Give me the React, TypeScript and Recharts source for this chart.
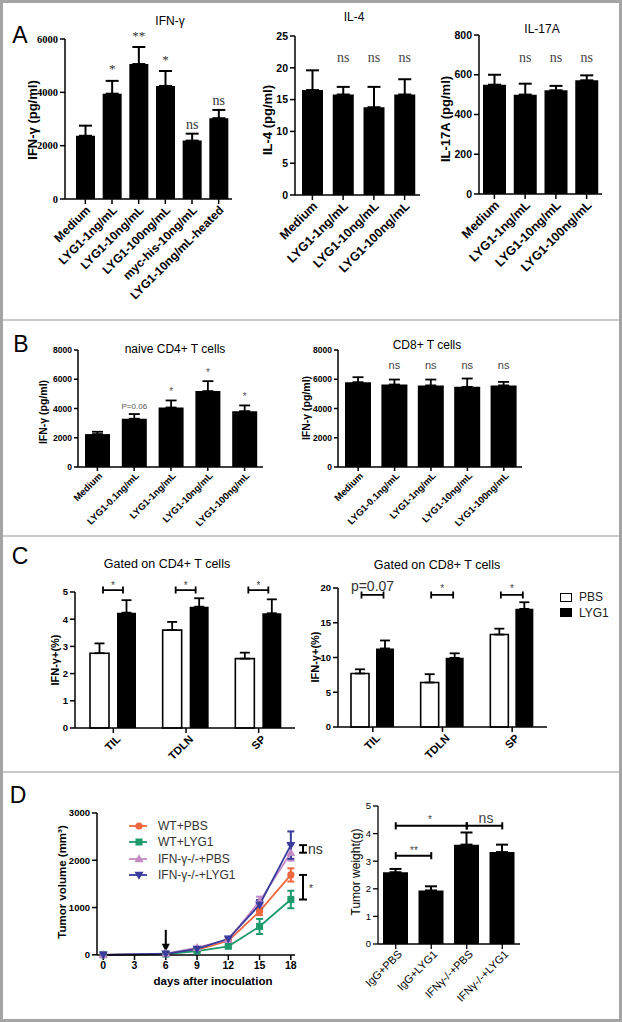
import React from "react";
import {
  BarChart,
  Bar,
  XAxis,
  YAxis,
  ErrorBar,
  LabelList,
  LineChart,
  Line,
  ReferenceLine,
  ReferenceDot,
} from "recharts";

const SANS = "'Liberation Sans', Arial, Helvetica, sans-serif";
const SERIF = "'Liberation Serif', 'Times New Roman', serif";

// ---------- A: cytokines, LYG1 dose series
const aDoses = ["Medium", "LYG1-1ng/mL", "LYG1-10ng/mL", "LYG1-100ng/mL", "myc-his-10ng/mL", "LYG1-10ng/mL-heated"];
const ifngMean = [2370, 3950, 5060, 4240, 2190, 3030];
const ifngErr = [380, 480, 640, 560, 260, 310];
const ifngSig = ["", "*", "**", "*", "ns", "ns"];

const cytoDoses = ["Medium", "LYG1-1ng/mL", "LYG1-10ng/mL", "LYG1-100ng/mL"];
const il4Mean = [16.5, 15.8, 13.8, 15.8];
const il4Err = [3.1, 1.2, 3.2, 2.4];
const il17Mean = [550, 500, 522, 572];
const il17Err = [50, 55, 22, 25];
const cytoSig = ["", "ns", "ns", "ns"];

// ---------- B: sorted T cells
const bDoses = ["Medium", "LYG1-0.1ng/mL", "LYG1-1ng/mL", "LYG1-10ng/mL", "LYG1-100ng/mL"];
const naiveMean = [2250, 3300, 4070, 5190, 3820];
const naiveErr = [160, 320, 480, 680, 390];
const naiveSig = ["", "P=0.06", "*", "*", "*"];
const cd8Mean = [5800, 5640, 5580, 5480, 5580];
const cd8Err = [340, 340, 400, 570, 240];
const cd8Sig = ["", "ns", "ns", "ns", "ns"];

// ---------- C: IFN-g+ cells in vivo
const tissues = ["TIL", "TDLN", "SP"];
const cd4Pbs = [2.75, 3.6, 2.55];
const cd4PbsErr = [0.36, 0.3, 0.22];
const cd4Lyg1 = [4.24, 4.46, 4.22];
const cd4Lyg1Err = [0.46, 0.31, 0.51];
const cd4Sig = ["*", "*", "*"];
const cd8Pbs = [7.7, 6.4, 13.3];
const cd8PbsErr = [0.6, 1.2, 0.85];
const cd8Lyg1 = [11.3, 9.95, 17.0];
const cd8Lyg1Err = [1.15, 0.65, 0.95];
const cd8GateSig = ["p=0.07", "*", "*"];

// ---------- D: tumour growth and weight
const days = [0, 6, 9, 12, 15, 18];
const wtPbs = [0, 20, 105, 296, 920, 1690];
const wtPbsErr = [4, 8, 20, 40, 80, 140];
const wtLyg1 = [0, 15, 80, 180, 600, 1170];
const wtLyg1Err = [4, 8, 15, 30, 160, 185];
const koPbs = [0, 25, 150, 320, 1130, 2160];
const koPbsErr = [4, 8, 20, 40, 100, 170];
const koLyg1 = [0, 22, 125, 340, 1060, 2320];
const koLyg1Err = [4, 8, 20, 40, 100, 290];

const weightGroups = ["IgG+PBS", "IgG+LYG1", "IFNγ-/-+PBS", "IFNγ-/-+LYG1"];
const weightMean = [2.6, 1.94, 3.6, 3.33];
const weightErr = [0.12, 0.15, 0.44, 0.27];

const COL = { wtPbs: "#f0673f", wtLyg1: "#1f9a6b", koPbs: "#c38ac6", koLyg1: "#393c9c" };

// tables
const rows = (cats: string[], mean: number[], err: number[], sig: string[]) =>
  cats.map((name, i) => ({ name, v: mean[i], e: [0, err[i]], sig: sig[i] }));

const ifngRows = rows(aDoses, ifngMean, ifngErr, ifngSig);
const il4Rows = rows(cytoDoses, il4Mean, il4Err, cytoSig);
const il17Rows = rows(cytoDoses, il17Mean, il17Err, cytoSig);
const naiveRows = rows(bDoses, naiveMean, naiveErr, naiveSig);
const cd8Rows = rows(bDoses, cd8Mean, cd8Err, cd8Sig);
const weightRows = rows(weightGroups, weightMean, weightErr, weightGroups.map(() => ""));

const pairRows = (pbs: number[], pbsE: number[], lyg: number[], lygE: number[], sig: string[]) =>
  tissues.map((name, i) => ({ name, pbs: pbs[i], pbsE: [0, pbsE[i]], lyg: lyg[i], lygE: [0, lygE[i]], sig: sig[i] }));
const cd4Rows = pairRows(cd4Pbs, cd4PbsErr, cd4Lyg1, cd4Lyg1Err, cd4Sig);
const cd8GateRows = pairRows(cd8Pbs, cd8PbsErr, cd8Lyg1, cd8Lyg1Err, cd8GateSig);

const growthRows = days.map((day, i) => ({
  day,
  wtPbs: wtPbs[i], wtPbsE: wtPbsErr[i],
  wtLyg1: wtLyg1[i], wtLyg1E: wtLyg1Err[i],
  koPbs: koPbs[i], koPbsE: koPbsErr[i],
  koLyg1: koLyg1[i], koLyg1E: koLyg1Err[i],
}));

// layout helpers: plot box (pl,pt,pr,pb) and chart box (cl, cr, cb) in page pixels
const frame = (pl: number, pt: number, pr: number, pb: number, cl: number, cr: number, cb: number) => {
  const m = 22;
  return {
    left: cl, top: pt - m, width: cr - cl, height: cb - pt + m,
    margin: { top: m, right: cr - pr, left: 0, bottom: 0 },
    yW: pl - cl, xH: cb - pb,
  };
};
type Box = ReturnType<typeof frame>;
const At = ({ b, children }: { b: Box; children: React.ReactNode }) => (
  <div style={{ position: "absolute", left: b.left, top: b.top }}>{children}</div>
);

const AX = { stroke: "#000", strokeWidth: 1.5 };
const whole = (d: any) => d;

const T = ({ x, y, s = 12, w = 400, f = SANS, c = "#000", rot = 0, a = "middle", children }: any) => {
  const tx = a === "middle" ? "-50%" : a === "start" ? "0%" : "-100%";
  return (
    <div style={{
      position: "absolute", left: x, top: y, transform: `translate(${tx},-50%) rotate(${rot}deg)`,
      fontSize: s, fontWeight: w, fontFamily: f, color: c, whiteSpace: "nowrap", lineHeight: 1,
    }}>{children}</div>
  );
};

const rotTick = (fs: number, fw: number, dx: number, dy: number) => (p: any) => {
  const x = p.x + dx;
  const y = p.y + dy;
  return (
    <text x={x} y={y} transform={`rotate(-45 ${x} ${y})`} textAnchor="end" dominantBaseline="central"
      fontSize={fs} fontWeight={fw} fontFamily={SANS} fill="#000">{p.payload.value}</text>
  );
};

const vbOf = (p: any) => (p.viewBox && p.viewBox.width != null ? p.viewBox : p);

// significance text above a bar, either gap above error top or at a fixed level
const sigLabel = (o: { gapStar?: number; gapText?: number; level?: number; starSize: number; textSize: number; font: string; color: string }) =>
  (p: any) => {
    const row = p.value;
    if (!row || !row.sig) return null;
    const vb = vbOf(p);
    const per = vb.height / row.v;
    const base = vb.y + vb.height;
    const star = row.sig.startsWith("*");
    const fs = star ? o.starSize : o.textSize;
    const c = o.level != null
      ? base - o.level * per
      : base - (row.v + row.e[1]) * per - (star ? o.gapStar ?? 12 : o.gapText ?? 8);
    return (
      <text x={vb.x + vb.width / 2} y={c + (star ? 0.58 : 0.36) * fs} textAnchor="middle"
        fontSize={fs} fontFamily={o.font} fill={o.color}>{row.sig}</text>
    );
  };

// bracket over a PBS/LYG1 pair, drawn from the LYG1 bar
const pairBracket = (level: number, half: number, gap: number, starFs: number, textFs: number, lift: number) =>
  (p: any) => {
    const row = p.value;
    if (!row) return null;
    const vb = vbOf(p);
    const per = vb.height / row.lyg;
    const y = vb.y + vb.height - level * per;
    const mid = vb.x - gap / 2;
    const star = row.sig.startsWith("*");
    const fs = star ? starFs : textFs;
    return (
      <g>
        <path d={`M${mid - half},${y} H${mid + half} M${mid - half},${y - 3.5} V${y + 3.5} M${mid + half},${y - 3.5} V${y + 3.5}`}
          stroke="#000" strokeWidth={1.8} fill="none" />
        <text x={mid} y={y - lift + (star ? 0.58 : 0.36) * fs} textAnchor="middle" fontSize={fs}
          fontFamily={SANS} fill={star ? "#444" : "#333"}>{row.sig}</text>
      </g>
    );
  };

const marker = (kind: string, color: string) => (p: any) => {
  const { cx, cy } = p;
  const k = p.key ?? `${kind}-${cx}`;
  if (cx == null || cy == null) return <g key={k} />;
  if (kind === "circle") return <circle key={k} cx={cx} cy={cy} r={3.6} fill={color} />;
  if (kind === "square") return <rect key={k} x={cx - 3.5} y={cy - 3.5} width={7} height={7} fill={color} />;
  if (kind === "up") return <path key={k} d={`M${cx},${cy - 4.8} L${cx + 4.5},${cy + 3.2} L${cx - 4.5},${cy + 3.2}Z`} fill={color} />;
  return <path key={k} d={`M${cx},${cy + 4.8} L${cx + 4.5},${cy - 3.2} L${cx - 4.5},${cy - 3.2}Z`} fill={color} />;
};

const seg = (key: string, x1: any, y1: number, x2: any, y2: number) => (
  <ReferenceLine key={key} segment={[{ x: x1, y: y1 }, { x: x2, y: y2 }]} stroke="#000" strokeWidth={2} ifOverflow="visible" />
);
const hBracket = (k: string, a: string, b: string, lvl: number, cap: number) => [
  seg(k + "h", a, lvl, b, lvl),
  seg(k + "a", a, lvl - cap, a, lvl + cap),
  seg(k + "b", b, lvl - cap, b, lvl + cap),
];
const vBracket = (k: string, x: number, y1: number, y2: number, cap: number) => [
  seg(k + "v", x, y1, x, y2),
  seg(k + "a", x - cap, y1, x + cap, y1),
  seg(k + "b", x - cap, y2, x + cap, y2),
];

const arrow = (p: any) => (
  <g>
    <line x1={p.cx} y1={p.cy - 25} x2={p.cx} y2={p.cy - 10} stroke="#000" strokeWidth={2} />
    <path d={`M${p.cx - 4},${p.cy - 11} L${p.cx + 4},${p.cy - 11} L${p.cx},${p.cy - 3}Z`} fill="#000" />
  </g>
);

const bA1 = frame(65, 39, 232, 199, 20, 240, 320);
const bA2 = frame(295, 36, 420, 195, 255, 428, 320);
const bA3 = frame(479, 35, 602, 194, 435, 610, 320);
const bB1 = frame(78, 350, 263, 467, 28, 270, 535);
const bB2 = frame(338, 350, 522, 467, 290, 530, 535);
const bC1 = frame(75, 592, 295, 728, 35, 300, 775);
const bC2 = frame(338, 588, 547, 727, 300, 552, 775);
const bD1 = frame(97, 813, 295, 955, 50, 335, 1000);
const bD2 = frame(378, 806, 520, 944, 340, 530, 1015);

const yTick = (fs: number, fw = 700, f = SANS) => ({ fontSize: fs, fontWeight: fw, fontFamily: f, fill: "#000" });

const legendRows = [
  { label: "WT+PBS", color: COL.wtPbs, kind: "circle" },
  { label: "WT+LYG1", color: COL.wtLyg1, kind: "square" },
  { label: "IFN-γ-/-+PBS", color: COL.koPbs, kind: "up" },
  { label: "IFN-γ-/-+LYG1", color: COL.koLyg1, kind: "down" },
];

export default function App() {
  return (
    <div style={{
      position: "absolute", left: 0, top: 0, width: 622, height: 1022, background: "#fff",
      border: "3px solid #a4a4a4", boxSizing: "border-box", fontFamily: SANS, overflow: "hidden",
    }}>
      <div style={{ position: "absolute", left: 0, right: 0, top: 316, height: 2, background: "#c9c9c9" }} />
      <div style={{ position: "absolute", left: 0, right: 0, top: 532, height: 2, background: "#c9c9c9" }} />
      <div style={{ position: "absolute", left: 0, right: 0, top: 768, height: 2, background: "#c9c9c9" }} />

      <div style={{ position: "absolute", left: -3, top: -3 }}>
        {/* ---------- A ---------- */}
        <At b={bA1}>
          <BarChart width={bA1.width} height={bA1.height} margin={bA1.margin} data={ifngRows}>
            <XAxis dataKey="name" height={bA1.xH} interval={0} padding={{ left: 7, right: 0 }} axisLine={AX} tickLine={AX} tickSize={5} tick={rotTick(12, 700, 3, 2)} />
            <YAxis width={bA1.yW} domain={[0, 6000]} ticks={[0, 2000, 4000, 6000]} interval={0} axisLine={AX} tickLine={AX} tickSize={5} tick={yTick(10.5, 700, SERIF)} />
            <Bar dataKey="v" fill="#000" barSize={19} isAnimationActive={false}>
              <ErrorBar dataKey="e" width={6.5} stroke="#000" strokeWidth={2} />
              <LabelList dataKey={whole} content={sigLabel({ gapStar: 15, gapText: 10, starSize: 13, textSize: 14, font: SERIF, color: "#333" })} />
            </Bar>
          </BarChart>
        </At>
        <At b={bA2}>
          <BarChart width={bA2.width} height={bA2.height} margin={bA2.margin} data={il4Rows}>
            <XAxis dataKey="name" height={bA2.xH} interval={0} padding={{ left: 2, right: 0 }} axisLine={AX} tickLine={AX} tickSize={5} tick={rotTick(12.5, 700, 3, 2)} />
            <YAxis width={bA2.yW} domain={[0, 25]} ticks={[0, 5, 10, 15, 20, 25]} interval={0} axisLine={AX} tickLine={AX} tickSize={5} tick={yTick(10.5)} />
            <Bar dataKey="v" fill="#000" barSize={21} isAnimationActive={false}>
              <ErrorBar dataKey="e" width={6.5} stroke="#000" strokeWidth={2} />
              <LabelList dataKey={whole} content={sigLabel({ level: 21.7, starSize: 13, textSize: 14, font: SERIF, color: "#444" })} />
            </Bar>
          </BarChart>
        </At>
        <At b={bA3}>
          <BarChart width={bA3.width} height={bA3.height} margin={bA3.margin} data={il17Rows}>
            <XAxis dataKey="name" height={bA3.xH} interval={0} padding={{ left: 0, right: 0 }} axisLine={AX} tickLine={AX} tickSize={5} tick={rotTick(12.5, 700, 3, 2)} />
            <YAxis width={bA3.yW} domain={[0, 800]} ticks={[0, 200, 400, 600, 800]} interval={0} axisLine={AX} tickLine={AX} tickSize={5} tick={yTick(10.5)} />
            <Bar dataKey="v" fill="#000" barSize={23} isAnimationActive={false}>
              <ErrorBar dataKey="e" width={6.5} stroke="#000" strokeWidth={2} />
              <LabelList dataKey={whole} content={sigLabel({ level: 688, starSize: 13, textSize: 14, font: SERIF, color: "#444" })} />
            </Bar>
          </BarChart>
        </At>

        {/* ---------- B ---------- */}
        <At b={bB1}>
          <BarChart width={bB1.width} height={bB1.height} margin={bB1.margin} data={naiveRows}>
            <XAxis dataKey="name" height={bB1.xH} interval={0} padding={{ left: 1, right: 0 }} axisLine={AX} tickLine={AX} tickSize={4} tick={rotTick(9.5, 700, 3, 1)} />
            <YAxis width={bB1.yW} domain={[0, 8000]} ticks={[0, 2000, 4000, 6000, 8000]} interval={0} axisLine={AX} tickLine={AX} tickSize={4} tick={yTick(8.5)} />
            <Bar dataKey="v" fill="#000" barSize={25} isAnimationActive={false}>
              <ErrorBar dataKey="e" width={5.5} stroke="#000" strokeWidth={1.8} />
              <LabelList dataKey={whole} content={sigLabel({ gapStar: 11, gapText: 8, starSize: 10, textSize: 8, font: SANS, color: "#555" })} />
            </Bar>
          </BarChart>
        </At>
        <At b={bB2}>
          <BarChart width={bB2.width} height={bB2.height} margin={bB2.margin} data={cd8Rows}>
            <XAxis dataKey="name" height={bB2.xH} interval={0} padding={{ left: 2, right: 0 }} axisLine={AX} tickLine={AX} tickSize={4} tick={rotTick(9.5, 700, 3, 1)} />
            <YAxis width={bB2.yW} domain={[0, 8000]} ticks={[0, 2000, 4000, 6000, 8000]} interval={0} axisLine={AX} tickLine={AX} tickSize={4} tick={yTick(8.5)} />
            <Bar dataKey="v" fill="#000" barSize={26} isAnimationActive={false}>
              <ErrorBar dataKey="e" width={5.5} stroke="#000" strokeWidth={1.8} />
              <LabelList dataKey={whole} content={sigLabel({ level: 6950, starSize: 10, textSize: 11, font: SANS, color: "#444" })} />
            </Bar>
          </BarChart>
        </At>

        {/* ---------- C ---------- */}
        <At b={bC1}>
          <BarChart width={bC1.width} height={bC1.height} margin={bC1.margin} data={cd4Rows} barGap={8}>
            <XAxis dataKey="name" height={bC1.xH} interval={0} padding={{ left: 2, right: 0 }} axisLine={AX} tickLine={AX} tickSize={5} tick={rotTick(11, 700, 5, 2)} />
            <YAxis width={bC1.yW} domain={[0, 5]} ticks={[0, 1, 2, 3, 4, 5]} interval={0} axisLine={AX} tickLine={AX} tickSize={5} tick={yTick(9.5)} />
            <Bar dataKey="pbs" fill="#fff" stroke="#000" strokeWidth={1.6} barSize={19} isAnimationActive={false}>
              <ErrorBar dataKey="pbsE" width={5} stroke="#000" strokeWidth={1.8} />
            </Bar>
            <Bar dataKey="lyg" fill="#000" barSize={19} isAnimationActive={false}>
              <ErrorBar dataKey="lygE" width={5} stroke="#000" strokeWidth={1.8} />
              <LabelList dataKey={whole} content={pairBracket(5.07, 10, 8, 10, 10, 7)} />
            </Bar>
          </BarChart>
        </At>
        <At b={bC2}>
          <BarChart width={bC2.width} height={bC2.height} margin={bC2.margin} data={cd8GateRows} barGap={7}>
            <XAxis dataKey="name" height={bC2.xH} interval={0} padding={{ left: 0, right: 0 }} axisLine={AX} tickLine={AX} tickSize={5} tick={rotTick(11, 700, 5, 2)} />
            <YAxis width={bC2.yW} domain={[0, 20]} ticks={[0, 5, 10, 15, 20]} interval={0} axisLine={AX} tickLine={AX} tickSize={5} tick={yTick(9.5)} />
            <Bar dataKey="pbs" fill="#fff" stroke="#000" strokeWidth={1.6} barSize={18} isAnimationActive={false}>
              <ErrorBar dataKey="pbsE" width={5} stroke="#000" strokeWidth={1.8} />
            </Bar>
            <Bar dataKey="lyg" fill="#000" barSize={18} isAnimationActive={false}>
              <ErrorBar dataKey="lygE" width={5} stroke="#000" strokeWidth={1.8} />
              <LabelList dataKey={whole} content={pairBracket(19.0, 11, 7, 10, 14, 9)} />
            </Bar>
          </BarChart>
        </At>

        {/* ---------- D ---------- */}
        <At b={bD1}>
          <LineChart width={bD1.width} height={bD1.height} margin={bD1.margin} data={growthRows}>
            <XAxis type="number" dataKey="day" domain={[-0.6, 18.4]} ticks={[0, 3, 6, 9, 12, 15, 18]} interval={0} height={bD1.xH} axisLine={AX} tickLine={AX} tickSize={5} tick={yTick(10.5)} />
            <YAxis width={bD1.yW} domain={[0, 3000]} ticks={[0, 1000, 2000, 3000]} interval={0} axisLine={AX} tickLine={AX} tickSize={5} tick={yTick(9.5)} />
            <Line dataKey="wtPbs" stroke={COL.wtPbs} strokeWidth={1.8} dot={marker("circle", COL.wtPbs)} isAnimationActive={false}>
              <ErrorBar dataKey="wtPbsE" direction="y" width={3.5} stroke={COL.wtPbs} strokeWidth={2} />
            </Line>
            <Line dataKey="wtLyg1" stroke={COL.wtLyg1} strokeWidth={1.8} dot={marker("square", COL.wtLyg1)} isAnimationActive={false}>
              <ErrorBar dataKey="wtLyg1E" direction="y" width={3.5} stroke={COL.wtLyg1} strokeWidth={2} />
            </Line>
            <Line dataKey="koPbs" stroke={COL.koPbs} strokeWidth={1.8} dot={marker("up", COL.koPbs)} isAnimationActive={false}>
              <ErrorBar dataKey="koPbsE" direction="y" width={3.5} stroke={COL.koPbs} strokeWidth={2} />
            </Line>
            <Line dataKey="koLyg1" stroke={COL.koLyg1} strokeWidth={1.8} dot={marker("down", COL.koLyg1)} isAnimationActive={false}>
              <ErrorBar dataKey="koLyg1E" direction="y" width={3.5} stroke={COL.koLyg1} strokeWidth={2} />
            </Line>
            {vBracket("ns", 19.17, koLyg1[5], koPbs[5], 0.38)}
            {vBracket("st", 19.17, wtPbs[5], wtLyg1[5], 0.38)}
            <ReferenceDot x={6} y={0} ifOverflow="visible" shape={arrow} />
          </LineChart>
        </At>
        <At b={bD2}>
          <BarChart width={bD2.width} height={bD2.height} margin={bD2.margin} data={weightRows}>
            <XAxis dataKey="name" height={bD2.xH} interval={0} padding={{ left: 0, right: 0 }} axisLine={{ stroke: "#000", strokeWidth: 1.3 }} tickLine={{ stroke: "#000", strokeWidth: 1.3 }} tickSize={5} tick={rotTick(11, 400, 4, 1)} />
            <YAxis width={bD2.yW} domain={[0, 5]} ticks={[0, 1, 2, 3, 4, 5]} interval={0} axisLine={{ stroke: "#000", strokeWidth: 1.3 }} tickLine={{ stroke: "#000", strokeWidth: 1.3 }} tickSize={5} tick={yTick(9.5, 400)} />
            <Bar dataKey="v" fill="#000" barSize={25} isAnimationActive={false}>
              <ErrorBar dataKey="e" width={6} stroke="#000" strokeWidth={2} />
            </Bar>
            {hBracket("b1", weightGroups[0], weightGroups[1], 3.2, 0.13)}
            {hBracket("b2", weightGroups[0], weightGroups[2], 4.28, 0.13)}
            {hBracket("b3", weightGroups[2], weightGroups[3], 4.28, 0.13)}
          </BarChart>
        </At>
      </div>

      {/* ---------- text (page coordinates, offset for border) ---------- */}
      <div style={{ position: "absolute", left: -3, top: -3 }}>
        <T x={20} y={35} s={23}>A</T>
        <T x={21} y={344} s={23}>B</T>
        <T x={20} y={556} s={23}>C</T>
        <T x={18} y={795} s={23}>D</T>

        <T x={170} y={21} s={12}>IFN-γ</T>
        <T x={354} y={17} s={12}>IL-4</T>
        <T x={542} y={29} s={12}>IL-17A</T>
        <T x={32} y={120} s={13} w={700} rot={-90}>IFN-γ (pg/ml)</T>
        <T x={267} y={120} s={13} w={700} rot={-90}>IL-4 (pg/ml)</T>
        <T x={445} y={119} s={13} w={700} rot={-90}>IL-17A (pg/ml)</T>

        <T x={175} y={349} s={12}>naive CD4+ T cells</T>
        <T x={427} y={345} s={12}>CD8+ T cells</T>
        <T x={43} y={412} s={10.5} w={700} rot={-90}>IFN-γ (pg/ml)</T>
        <T x={306} y={408} s={10.5} w={700} rot={-90}>IFN-γ (pg/ml)</T>

        <T x={167} y={564} s={12.5}>Gated on CD4+ T cells</T>
        <T x={437} y={565} s={12.5}>Gated on CD8+ T cells</T>
        <T x={55} y={660} s={11} w={700} rot={-90}>IFN-γ+(%)</T>
        <T x={315} y={657} s={11} w={700} rot={-90}>IFN-γ+(%)</T>
        <div style={{ position: "absolute", left: 560, top: 593, width: 12, height: 9, border: "1.5px solid #000", boxSizing: "border-box", background: "#fff" }} />
        <div style={{ position: "absolute", left: 560, top: 608, width: 12, height: 9, background: "#000" }} />
        <T x={579} y={597} s={12} a="start" c="#222">PBS</T>
        <T x={579} y={613} s={12} a="start" c="#222">LYG1</T>

        <T x={63} y={882} s={11.5} w={700} rot={-90}>Tumor volume (mm³)</T>
        <T x={213} y={982} s={11.5} w={700}>days after inoculation</T>
        {legendRows.map((r, i) => (
          <div key={r.label} style={{ position: "absolute", left: 128, top: 826 + i * 16.3 - 6, height: 12, width: 160, display: "flex", alignItems: "center", whiteSpace: "nowrap" }}>
            <svg width={22} height={12} style={{ flex: "none" }}>
              <line x1={1} y1={6} x2={19} y2={6} stroke={r.color} strokeWidth={1.8} />
              {marker(r.kind, r.color)({ cx: 11, cy: 6, key: r.label })}
            </svg>
            <span style={{ marginLeft: 8, fontSize: 12, color: "#333", fontFamily: SANS, lineHeight: 1, whiteSpace: "nowrap" }}>{r.label}</span>
          </div>
        ))}
        <T x={308} y={849} s={14} a="start" c="#333">ns</T>
        <T x={309} y={889} s={10} a="start" c="#333">*</T>

        <T x={356} y={872} s={12} rot={-90}>Tumor weight(g)</T>
        <T x={430} y={820} s={10} c="#444">*</T>
        <T x={414} y={851} s={10} c="#444">**</T>
        <T x={486} y={818} s={14} c="#444">ns</T>
      </div>
    </div>
  );
}
